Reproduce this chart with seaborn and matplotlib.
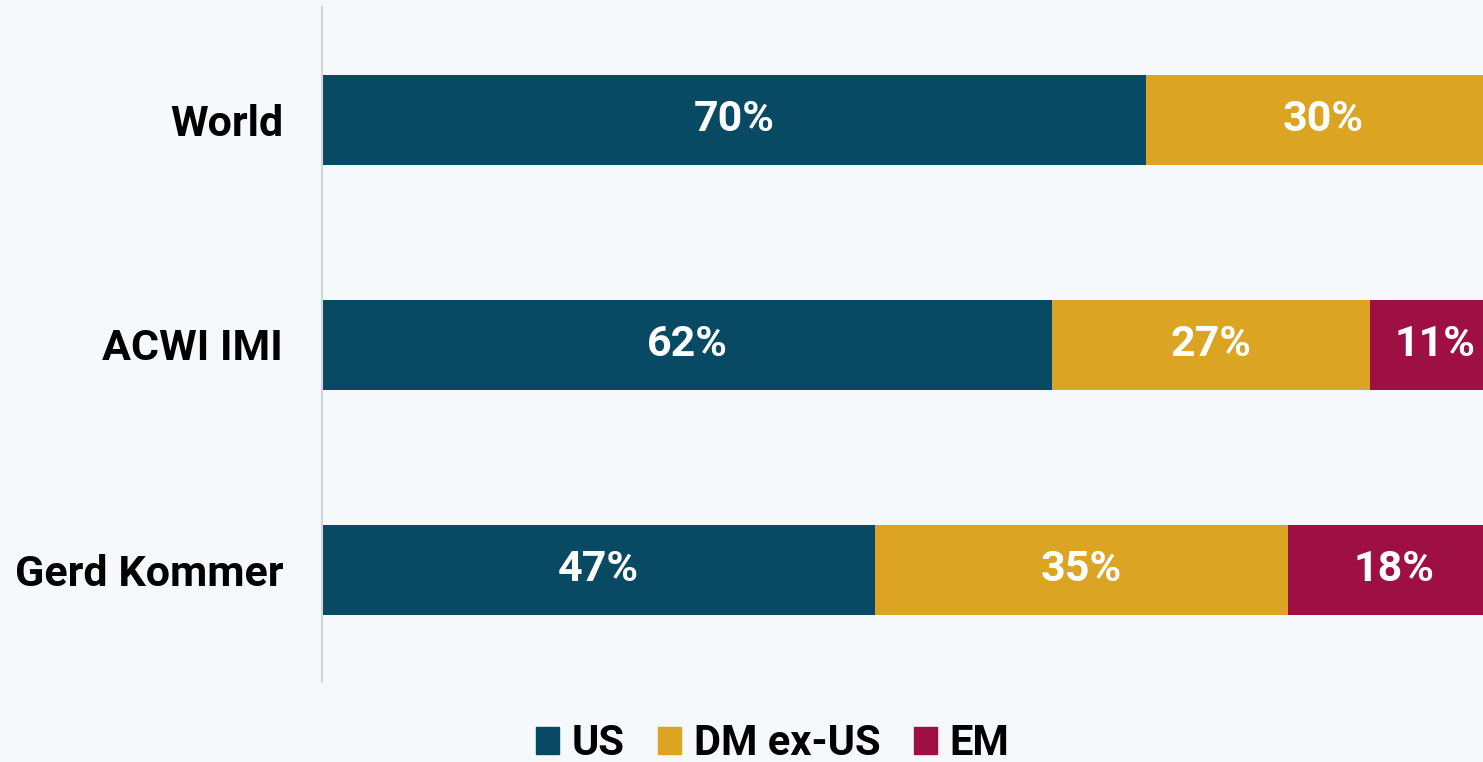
import matplotlib
matplotlib.use('Agg')

import matplotlib.pyplot as plt
import matplotlib.patches as mpatches
import seaborn as sns
import pandas as pd

BG = '#F5F9FC'
US_C = '#084A63'
DM_C = '#DBA523'
EM_C = '#9E0F42'
SPINE = '#D3D6D9'

portfolios = ['World', 'ACWI IMI', 'Gerd Kommer']
us = [70, 62, 47]
dm_ex_us = [30, 27, 35]
em = [0, 11, 18]

series = ['US', 'DM ex-US', 'EM']
colors = [US_C, DM_C, EM_C]

sns.set_style('white')
plt.rcParams['font.family'] = ['Roboto', 'DejaVu Sans']
plt.rcParams['font.weight'] = 'bold'

df = pd.DataFrame({'portfolio': portfolios, 'US': us, 'DM ex-US': dm_ex_us, 'EM': em})
cum = df[series].cumsum(axis=1)

fig = plt.figure(figsize=(14.83, 7.62), dpi=100, facecolor=BG)
ax = fig.add_axes([322 / 1483, 80 / 762, 1 - 322 / 1483, 675 / 762])
ax.set_facecolor(BG)

# draw cumulative totals back to front so each layer shows its own segment
for name, color in reversed(list(zip(series, colors))):
    sns.barplot(x=cum[name], y=df['portfolio'], orient='h', color=color,
                width=0.4, saturation=1, edgecolor='none', ax=ax)

for i, row in df.iterrows():
    start = 0
    for name in series:
        val = row[name]
        if val > 0:
            ax.text(start + val / 2, i, f'{val}%', ha='center', va='center',
                    color='white', fontsize=31, fontweight='bold', clip_on=False)
        start += val

# the original is cropped on the right, so the 100% end sits just past the edge
ax.set_xlim(0, 98.6)
ax.set_ylim(2.5, -0.5)
ax.set_xlabel('')
ax.set_ylabel('')
ax.set_xticks([])
ax.tick_params(axis='y', length=0, pad=28, labelsize=31)
for lab in ax.get_yticklabels():
    lab.set_fontweight('bold')
    lab.set_color('black')

for s in ('top', 'right', 'bottom'):
    ax.spines[s].set_visible(False)
ax.spines['left'].set_color(SPINE)
ax.spines['left'].set_linewidth(1.5)

handles = [mpatches.Patch(color=c, label=n) for n, c in zip(series, colors)]
fig.legend(handles=handles, loc='lower center', bbox_to_anchor=(0.521, -0.052),
           ncol=3, frameon=False, handlelength=0.55, handleheight=0.6,
           handletextpad=0.3, columnspacing=0.8, labelcolor='black',
           prop={'weight': 'bold', 'size': 30})

fig.savefig('out.png', dpi=100, facecolor=BG)
